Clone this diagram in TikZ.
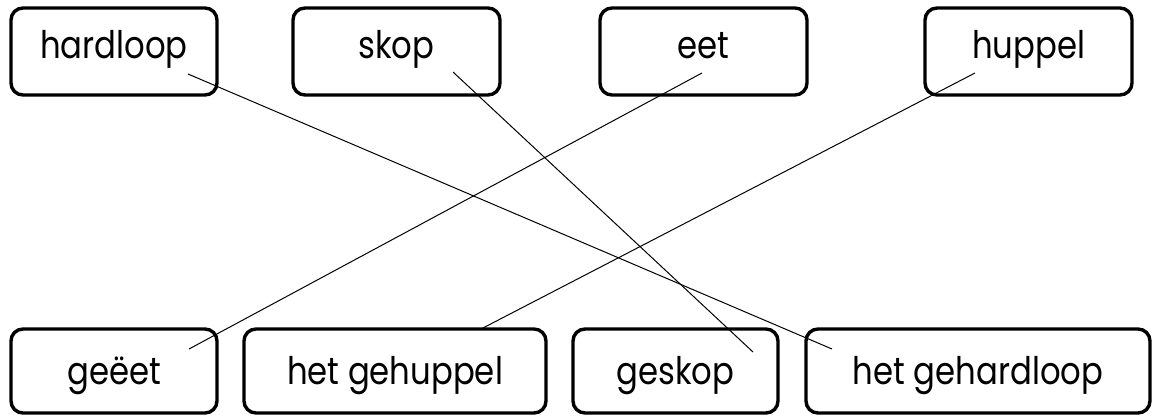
\documentclass[tikz,border=0pt]{standalone}
\usepackage{fontspec}
\usepackage{graphicx}
\newfontfamily\wordfont{Poppins}
\newcommand{\wordtxt}[1]{\scalebox{0.85}[1]{\wordfont\fontsize{38}{42}\selectfont #1}}
\tikzset{
  wordbox/.style={draw=black, line width=3.4pt, rounded corners=12pt, inner sep=0pt, fill=white},
  toprow/.style={wordbox, text height=28pt, text depth=14pt},
  botrow/.style={wordbox, text height=31pt, text depth=5pt},
  link/.style={draw=black, line width=1pt}
}
\begin{document}
\begin{tikzpicture}[x=1pt,y=-1pt]
\useasboundingbox (0,0) rectangle (1156,416);
% top row
\node[toprow, minimum width=206pt, minimum height=87pt] (hardloop) at (114,51.5) {\wordtxt{hardloop}};
\node[toprow, minimum width=207pt, minimum height=87pt] (skop) at (396.5,51.5) {\wordtxt{skop}};
\node[toprow, minimum width=207pt, minimum height=87pt] (eet) at (703.5,51.5) {\wordtxt{eet}};
\node[toprow, minimum width=207pt, minimum height=87pt] (huppel) at (1028.5,51.5) {\wordtxt{huppel}};
% bottom row
\node[botrow, minimum width=206pt, minimum height=84pt] (geeet) at (114,371) {\wordtxt{geëet}};
\node[botrow, minimum width=302pt, minimum height=84pt] (gehuppel) at (395,371) {\wordtxt{het gehuppel}};
\node[botrow, minimum width=205pt, minimum height=84pt] (geskop) at (675.5,371) {\wordtxt{geskop}};
\node[botrow, minimum width=344pt, minimum height=84pt] (gehardloop) at (978,371) {\wordtxt{het gehardloop}};
% connector end points
\coordinate (a1) at (188,74);
\coordinate (a2) at (832,349);
\coordinate (b1) at (453,72);
\coordinate (b2) at (753,352);
\coordinate (c1) at (702,73);
\coordinate (c2) at (189,349);
\coordinate (d1) at (975,73);
\coordinate (d2) at (481,329);
\draw[link] (a1) -- (a2);
\draw[link] (b1) -- (b2);
\draw[link] (c1) -- (c2);
\draw[link] (d1) -- (d2);
\end{tikzpicture}
\end{document}
